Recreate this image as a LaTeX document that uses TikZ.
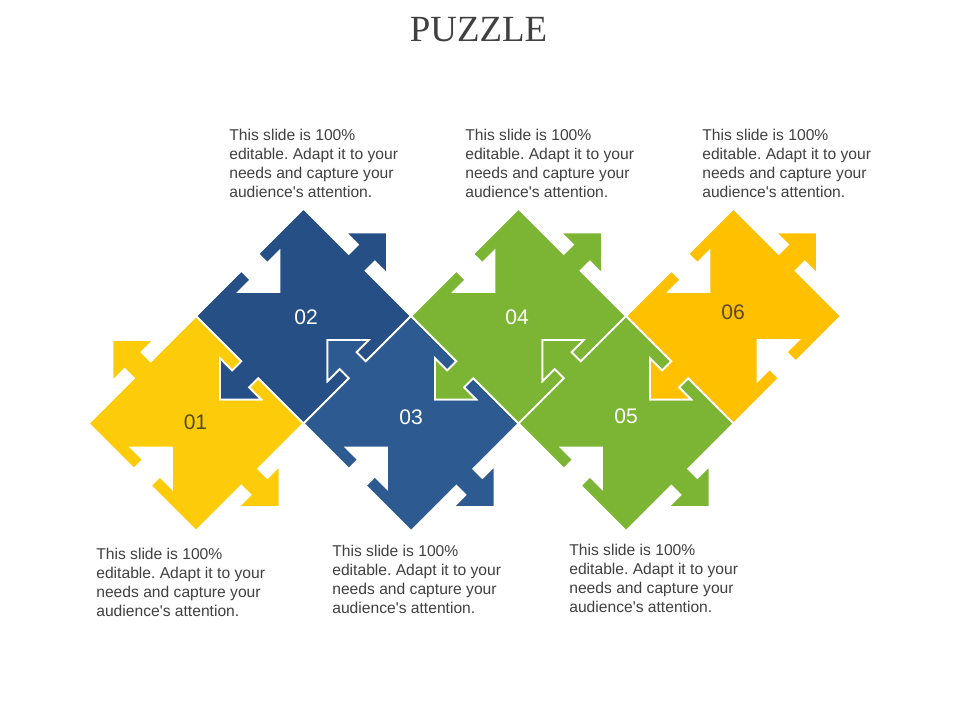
\documentclass[tikz,border=0pt]{standalone}
\usepackage{fontspec}
\setmainfont{Liberation Serif}
\setsansfont{Liberation Sans}
\usetikzlibrary{positioning}
\frenchspacing
\definecolor{pzyellow}{HTML}{FCCC0A}
\definecolor{pzgold}{HTML}{FFC000}
\definecolor{pzblue}{HTML}{254F85}
\definecolor{pzbluelight}{HTML}{2C5A91}
\definecolor{pzgreen}{HTML}{7CB534}
\definecolor{pztext}{HTML}{404040}
\definecolor{pzdark}{HTML}{5A4A1E}
\newcommand{\blurbtext}{This slide is 100\%\\editable. Adapt it to your\\needs and capture your\\audience\textquotesingle s attention.}
\tikzset{
  puzzlepiece/.pic={
    \path[pic actions] (-76,-76) -- (-12,-76) -- (-12,-63) -- (-29,-63) -- (0,-34) -- (29,-63) -- (12,-63) -- (12,-76) -- (76,-76)
      -- (76,-12) -- (89,-12) -- (89,-29) -- (118,0) -- (89,29) -- (89,12) -- (76,12) -- (76,76)
      -- (12,76) -- (12,63) -- (29,63) -- (0,34) -- (-29,63) -- (-12,63) -- (-12,76) -- (-76,76)
      -- (-76,12) -- (-89,12) -- (-89,29) -- (-118,0) -- (-89,-29) -- (-89,-12) -- (-76,-12) -- cycle;
  },
  piecestyle/.style={draw=white, line width=1pt, line join=miter},
  numlabel/.style={font=\sffamily\fontsize{12}{14}\selectfont, text=white, inner sep=0pt},
  blurb/.style={font=\sffamily\fontsize{8.9}{10.7}\selectfont, text=pztext, align=left, anchor=north west, inner sep=0pt}
}
\begin{document}
\begin{tikzpicture}[x=0.02cm, y=-0.02cm]
\useasboundingbox (0,0) rectangle (960,720);
%% title
  \node[font=\fontsize{21}{24}\selectfont, text=pztext, inner sep=0pt] (title) at (478.5,29.5) {PUZZLE};
%% puzzle pieces
  \pic[piecestyle, fill=pzyellow, rotate=-45] (p1) at (196,423.5) {puzzlepiece};
  \pic[piecestyle, fill=pzblue, rotate=45] (p2) at (303.5,316) {puzzlepiece};
  \pic[piecestyle, fill=pzbluelight, rotate=-45] (p3) at (411,423.5) {puzzlepiece};
  \pic[piecestyle, fill=pzgreen, rotate=45] (p4) at (518.5,316) {puzzlepiece};
  \pic[piecestyle, fill=pzgreen, rotate=-45] (p5) at (626,423.5) {puzzlepiece};
  \pic[piecestyle, fill=pzgold, rotate=45] (p6) at (733.5,316) {puzzlepiece};
%% numbers
  \node[numlabel, text=pzdark] (n1) at (195.5,422.5) {01};
  \node[numlabel] (n2) at (306,317) {02};
  \node[numlabel] (n3) at (411,417) {03};
  \node[numlabel] (n4) at (517,317) {04};
  \node[numlabel] (n5) at (626,416) {05};
  \node[numlabel, text=pzdark] (n6) at (733,312) {06};
%% texts above
  \node[blurb] (t2) at (229,129) {\blurbtext};
  \node[blurb] (t4) at (465,129) {\blurbtext};
  \node[blurb] (t6) at (702,129) {\blurbtext};
%% texts below
  \node[blurb] (t1) at (96,548) {\blurbtext};
  \node[blurb] (t3) at (332,545) {\blurbtext};
  \node[blurb] (t5) at (569,544) {\blurbtext};
\end{tikzpicture}
\end{document}
